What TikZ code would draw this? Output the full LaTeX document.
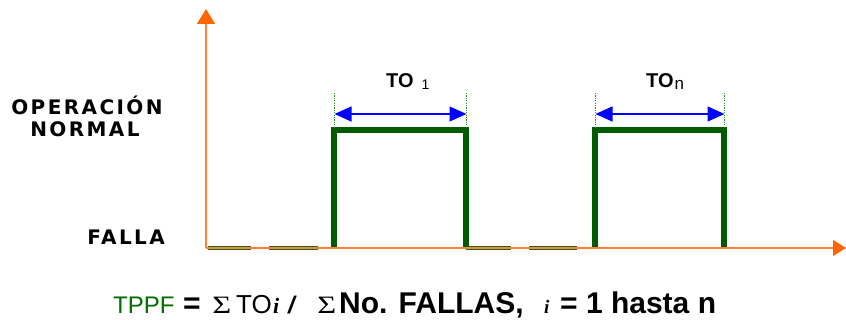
\documentclass[tikz,border=0pt]{standalone}
\usepackage{fontspec}
\setmainfont{Liberation Sans}
\newfontfamily\seriffont{Liberation Serif}
\newfontfamily\lblfont[LetterSpace=12]{DejaVu Sans}
\usetikzlibrary{arrows.meta}
\definecolor{axisor}{RGB}{255,128,60}
\definecolor{tipor}{RGB}{255,102,0}
\definecolor{pgreen}{RGB}{0,90,0}
\definecolor{dotgreen}{RGB}{40,140,40}
\definecolor{tgreen}{RGB}{0,110,0}
\definecolor{dimblue}{RGB}{0,0,255}
\tikzset{
  axisline/.style={draw=axisor, line width=1.8pt},
  pulse/.style={draw=pgreen, line width=5.8pt, line join=miter},
  lowdash/.style={draw=pgreen!90, line width=4pt},
  guide/.style={draw=dotgreen, line width=0.9pt, dash pattern=on 1.2pt off 1.2pt},
  dimarrow/.style={draw=dimblue, line width=1.4pt,
    {Triangle[length=17pt,width=15pt]}-{Triangle[length=17pt,width=15pt]}},
  lbl/.style={inner sep=0pt, font=\lblfont\bfseries\fontsize{20}{20}\selectfont},
  tolbl/.style={inner sep=0pt, anchor=base west, font=\bfseries\fontsize{20}{20}\selectfont},
  ftxt/.style={inner sep=0pt, anchor=base west, font=\bfseries\fontsize{30}{30}\selectfont},
  fsig/.style={inner sep=0pt, anchor=base west, xscale=1.3, font=\seriffont\fontsize{25}{25}\selectfont}
}
\begin{document}
\begin{tikzpicture}[x=1pt,y=-1pt]
\useasboundingbox (0,0) rectangle (846,320);
% coordinates
\coordinate (O) at (206,248);
\coordinate (ytop) at (206,9);
\coordinate (xend) at (846,248);
\coordinate (r1b) at (334,248);
\coordinate (r1t) at (334,130);
\coordinate (f1t) at (466,130);
\coordinate (f1b) at (466,248);
\coordinate (r2b) at (595,248);
\coordinate (r2t) at (595,130);
\coordinate (f2t) at (724,130);
\coordinate (f2b) at (724,248);
\coordinate (d1a) at (208,248); \coordinate (d1b) at (251,248);
\coordinate (d2a) at (269,248); \coordinate (d2b) at (318,248);
\coordinate (d3a) at (466,248); \coordinate (d3b) at (511,248);
\coordinate (d4a) at (529,248); \coordinate (d4b) at (577,248);
\coordinate (g1a) at (334.5,93); \coordinate (g1b) at (334.5,127);
\coordinate (g2a) at (466.5,93); \coordinate (g2b) at (466.5,127);
\coordinate (g3a) at (595.5,93); \coordinate (g3b) at (595.5,127);
\coordinate (g4a) at (724.5,93); \coordinate (g4b) at (724.5,127);
\coordinate (a1l) at (334.5,114); \coordinate (a1r) at (466.5,114);
\coordinate (a2l) at (595.5,114); \coordinate (a2r) at (724.5,114);
% low-state dashes
\draw[lowdash] (d1a) -- (d1b);
\draw[lowdash] (d2a) -- (d2b);
\draw[lowdash] (d3a) -- (d3b);
\draw[lowdash] (d4a) -- (d4b);
% pulses
\draw[pulse] (r1b) -- (r1t) -- (f1t) -- (f1b);
\draw[pulse] (r2b) -- (r2t) -- (f2t) -- (f2b);
% axes
\draw[axisline, -{Triangle[length=15pt,width=18pt,color=tipor]}] (O) -- (ytop);
\draw[axisline, -{Triangle[length=13pt,width=16pt,color=tipor]}] (O) -- (xend);
% guides
\draw[guide] (g1a) -- (g1b);
\draw[guide] (g2a) -- (g2b);
\draw[guide] (g3a) -- (g3b);
\draw[guide] (g4a) -- (g4b);
% dimension arrows
\draw[dimarrow] (a1l) -- (a1r);
\draw[dimarrow] (a2l) -- (a2r);
% labels
\node[lbl, anchor=base] (op) at (87,115) {OPERACIÓN};
\node[lbl, anchor=base] (nor) at (85,137) {NORMAL};
\node[lbl, anchor=base east] (fal) at (165,245) {FALLA};
\node[tolbl] (to1) at (386,88) {TO\kern8pt\raisebox{-1.5pt}{\mdseries\fontsize{14}{14}\selectfont 1}};
\node[tolbl] (ton) at (646,88) {TO\kern1pt\raisebox{-1.5pt}{\mdseries\fontsize{17}{17}\selectfont n}};
% formula
\node[ftxt, font=\mdseries\fontsize{24}{24}\selectfont, text=tgreen] (tppf) at (113,313) {TPPF};
\node[ftxt] (eq1) at (183,313) {=};
\node[fsig] (sig1) at (212,314) {Σ};
\node[ftxt, font=\mdseries\fontsize{26}{26}\selectfont] (to) at (236,313) {TO};
\node[ftxt, font=\seriffont\bfseries\itshape\fontsize{22}{22}\selectfont] (ii) at (273,313) {i};
\node[ftxt, font=\bfseries\itshape\fontsize{24}{24}\selectfont] (sl) at (288,313) {/};
\node[fsig] (sig2) at (317,314) {Σ};
\node[ftxt] (nof) at (339,313) {No. FALLAS,};
\node[ftxt, font=\seriffont\bfseries\itshape\fontsize{19}{19}\selectfont] (i2) at (544,313) {i};
\node[ftxt] (rest) at (560,313) {= 1 hasta n};
\end{tikzpicture}
\end{document}
